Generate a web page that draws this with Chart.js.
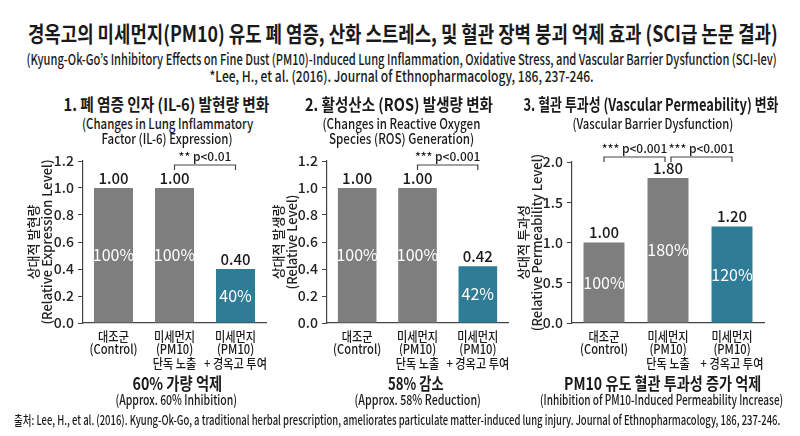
<!DOCTYPE html>
<html>
<head>
<meta charset="utf-8">
<script src="https://cdn.jsdelivr.net/npm/chart.js@4.4.1/dist/chart.umd.min.js"></script>
<style>
  html, body { margin: 0; padding: 0; background: #fff; }
  #page { position: relative; width: 800px; height: 436px; overflow: hidden; font-family: 'Noto Sans CJK KR', 'Noto Sans', sans-serif; color: #1a1a1a; }
  canvas { position: absolute; }
  .txt { position: absolute; white-space: nowrap; line-height: 1; transform-origin: center center; }
</style>
</head>
<body>
<div id="page">
  <canvas id="c1" width="262" height="232" style="left:20px;top:140px"></canvas>
  <canvas id="c2" width="255" height="232" style="left:265px;top:140px"></canvas>
  <canvas id="c3" width="272" height="232" style="left:510px;top:140px"></canvas>
</div>
<script>
// 데이터
const categories = [
    ['대조군', '(Control)'],
    ['미세먼지', '(PM10)', '단독 노출'],
    ['미세먼지', '(PM10)', '+ 경옥고 투여']
];
const il6Values = [1.00, 1.00, 0.40];
const il6Percent = ['100%', '100%', '40%'];
const rosValues = [1.00, 1.00, 0.42];
const rosPercent = ['100%', '100%', '42%'];
const permValues = [1.00, 1.80, 1.20];
const permPercent = ['100%', '180%', '120%'];

const il6Ticks = [0.0, 0.2, 0.4, 0.6, 0.8, 1.0, 1.2];
const rosTicks = [0.0, 0.2, 0.4, 0.6, 0.8, 1.0, 1.2];
const permTicks = [0.0, 0.5, 1.0, 1.5, 2.0];

const il6Sig = [{ from: 1, to: 2, label: '** p<0.01' }];
const rosSig = [{ from: 1, to: 2, label: '*** p<0.001' }];
const permSig = [
    { from: 0, to: 1, label: '*** p<0.001' },
    { from: 1, to: 2, label: '*** p<0.001' }
];

const GRAY = '#7e7e7e';
const TEAL = '#2f7c96';
const FONT = "'Noto Sans CJK KR', 'Noto Sans', sans-serif";

// 텍스트 (제목, 부제, 설명)
const textos = [
    { t: '경옥고의 미세먼지(PM10) 유도 폐 염증, 산화 스트레스, 및 혈관 장벽 붕괴 억제 효과 (SCI급 논문 결과)', x: 403, y: 32, w: 750, s: 22, b: 700 },
    { t: '(Kyung-Ok-Go\u2019s Inhibitory Effects on Fine Dust (PM10)-Induced Lung Inflammation, Oxidative Stress, and Vascular Barrier Dysfunction (SCI-lev)', x: 401, y: 58, w: 750, s: 15, b: 500 },
    { t: '*Lee, H., et al. (2016). Journal of Ethnopharmacology, 186, 237-246.', x: 401, y: 75, w: 384, s: 15, b: 500 },
    { t: '1. 폐 염증 인자 (IL-6) 발현량 변화', x: 166, y: 103, w: 206, s: 17, b: 700 },
    { t: '(Changes in Lung Inflammatory', x: 167, y: 123, w: 171, s: 14, b: 500 },
    { t: 'Factor (IL-6) Expression)', x: 167, y: 138, w: 131, s: 14, b: 500 },
    { t: '2. 활성산소 (ROS) 발생량 변화', x: 399, y: 103, w: 188, s: 17, b: 700 },
    { t: '(Changes in Reactive Oxygen', x: 401, y: 123, w: 158, s: 14, b: 500 },
    { t: 'Species (ROS) Generation)', x: 401, y: 138, w: 145, s: 14, b: 500 },
    { t: '3. 혈관 투과성 (Vascular Permeability) 변화', x: 651, y: 103, w: 255, s: 17, b: 700 },
    { t: '(Vascular Barrier Dysfunction)', x: 653, y: 123, w: 161, s: 14, b: 500 },
    { t: '60% 가량 억제', x: 177, y: 382, w: 90, s: 17, b: 700 },
    { t: '(Approx. 60% Inhibition)', x: 176, y: 399, w: 122, s: 14, b: 500 },
    { t: '58% 감소', x: 416, y: 382, w: 56, s: 17, b: 700 },
    { t: '(Approx. 58% Reduction)', x: 417, y: 399, w: 126, s: 14, b: 500 },
    { t: 'PM10 유도 혈관 투과성 증가 억제', x: 662, y: 382, w: 197, s: 17, b: 700 },
    { t: '(Inhibition of PM10-Induced Permeability Increase)', x: 661, y: 399, w: 243, s: 14, b: 500 },
    { t: '출처: Lee, H., et al. (2016). Kyung-Ok-Go, a traditional herbal prescription, ameliorates particulate matter-induced lung injury. Journal of Ethnopharmacology, 186, 237-246.', x: 397, y: 419, w: 766, s: 13, b: 500 }
];

const page = document.getElementById('page');
textos.forEach(item => {
    const el = document.createElement('div');
    el.className = 'txt';
    el.textContent = item.t;
    el.style.fontSize = item.s + 'px';
    el.style.fontWeight = item.b;
    page.appendChild(el);
    const ancho = el.offsetWidth;
    const alto = el.offsetHeight;
    el.style.left = (item.x - ancho / 2) + 'px';
    el.style.top = (item.y - alto / 2) + 'px';
    el.style.transform = 'scaleX(' + (item.w / ancho) + ')';
});

// 막대 위 값, 막대 안 퍼센트
const etiquetas = {
    id: 'etiquetas',
    afterDatasetsDraw(chart, args, opts) {
        const ctx = chart.ctx;
        const meta = chart.getDatasetMeta(0);
        const valores = chart.data.datasets[0].data;
        ctx.save();
        ctx.textAlign = 'center';
        ctx.textBaseline = 'middle';
        meta.data.forEach((bar, i) => {
            ctx.fillStyle = '#1a1a1a';
            ctx.font = '500 15px ' + FONT;
            ctx.fillText(valores[i].toFixed(2), bar.x, bar.y - 10);
            ctx.fillStyle = '#fff';
            ctx.font = '16px ' + FONT;
            ctx.fillText(opts.percent[i], bar.x, (bar.y + bar.base) / 2);
        });
        ctx.restore();
    }
};

// x축 범주 라벨 (좁은 글꼴 느낌으로 가로 축소)
const categoriasX = {
    id: 'categoriasX',
    afterDraw(chart) {
        const ctx = chart.ctx;
        const xScale = chart.scales.x;
        const base = chart.chartArea.bottom;
        ctx.save();
        ctx.fillStyle = '#1a1a1a';
        ctx.font = '500 13px ' + FONT;
        ctx.textAlign = 'center';
        ctx.textBaseline = 'middle';
        chart.data.labels.forEach((lineas, i) => {
            const x = xScale.getPixelForTick(i);
            lineas.forEach((linea, j) => {
                ctx.save();
                ctx.translate(x, base + 13 + j * 13.5);
                ctx.scale(0.86, 1);
                ctx.fillText(linea, 0, 0);
                ctx.restore();
            });
        });
        ctx.restore();
    }
};

// 유의성 괄호
const corchetes = {
    id: 'corchetes',
    afterDraw(chart, args, opts) {
        const ctx = chart.ctx;
        const meta = chart.getDatasetMeta(0);
        const y = chart.chartArea.top + opts.offset;
        ctx.save();
        ctx.strokeStyle = '#444';
        ctx.lineWidth = 1.2;
        ctx.fillStyle = '#1a1a1a';
        ctx.font = '500 12px ' + FONT;
        ctx.textAlign = 'center';
        ctx.textBaseline = 'middle';
        opts.items.forEach(s => {
            let x1 = meta.data[s.from].x;
            let x2 = meta.data[s.to].x;
            if (opts.items.length > 1) {
                if (s.from > 0) x1 += 3;
                if (s.to < meta.data.length - 1) x2 -= 3;
            }
            ctx.beginPath();
            ctx.moveTo(x1, y + 5);
            ctx.lineTo(x1, y);
            ctx.lineTo(x2, y);
            ctx.lineTo(x2, y + 5);
            ctx.stroke();
            ctx.fillText(s.label, (x1 + x2) / 2, y - 9);
        });
        ctx.restore();
    }
};

function crearGrafica(id, valores, porcentajes, ticks, sig, tituloY, anchoY, padDer, padArriba, offsetSig) {
    const ctx = document.getElementById(id).getContext('2d');
    return new Chart(ctx, {
        type: 'bar',
        data: {
            labels: categories,
            datasets: [{
                data: valores,
                backgroundColor: [GRAY, GRAY, TEAL],
                borderWidth: 0,
                categoryPercentage: 1,
                barPercentage: 0.64
            }]
        },
        options: {
            responsive: false,
            animation: false,
            layout: { padding: { top: padArriba, right: padDer, left: 0, bottom: 0 } },
            plugins: {
                legend: { display: false },
                tooltip: { enabled: false },
                etiquetas: { percent: porcentajes },
                corchetes: { items: sig, offset: offsetSig }
            },
            scales: {
                x: {
                    grid: { display: false, drawTicks: false },
                    border: { display: true, color: '#444', width: 1.2 },
                    ticks: { display: false },
                    afterFit: axis => { axis.height = 49; }
                },
                y: {
                    min: ticks[0],
                    max: ticks[ticks.length - 1],
                    afterBuildTicks: axis => { axis.ticks = ticks.map(v => ({ value: v })); },
                    grid: { drawOnChartArea: false, drawTicks: true, tickLength: 5, color: '#444' },
                    border: { display: true, color: '#444', width: 1.2 },
                    ticks: {
                        color: '#222',
                        font: { family: FONT, size: 14, weight: 500 },
                        padding: 4,
                        callback: v => Number(v).toFixed(1)
                    },
                    title: {
                        display: true,
                        text: tituloY,
                        color: '#222',
                        font: { family: FONT, size: 13, weight: 500, lineHeight: 1.1 },
                        padding: { top: 6, bottom: 0 }
                    },
                    afterFit: axis => { axis.width = anchoY; }
                }
            }
        },
        plugins: [etiquetas, categoriasX, corchetes]
    });
}

document.fonts.ready.then(() => {
    crearGrafica('c1', il6Values, il6Percent, il6Ticks, il6Sig,
        ['상대적 발현량', '(Relative Expression Level)'], 63, 16, 21, 4);
    crearGrafica('c2', rosValues, rosPercent, rosTicks, rosSig,
        ['상대적 발생량', '(Relative Level)'], 62, 12, 21, 4);
    crearGrafica('c3', permValues, permPercent, permTicks, permSig,
        ['상대적 투과성', '(Relative Permeability Level)'], 62, 18, 22, -5);
});
</script>
</body>
</html>
